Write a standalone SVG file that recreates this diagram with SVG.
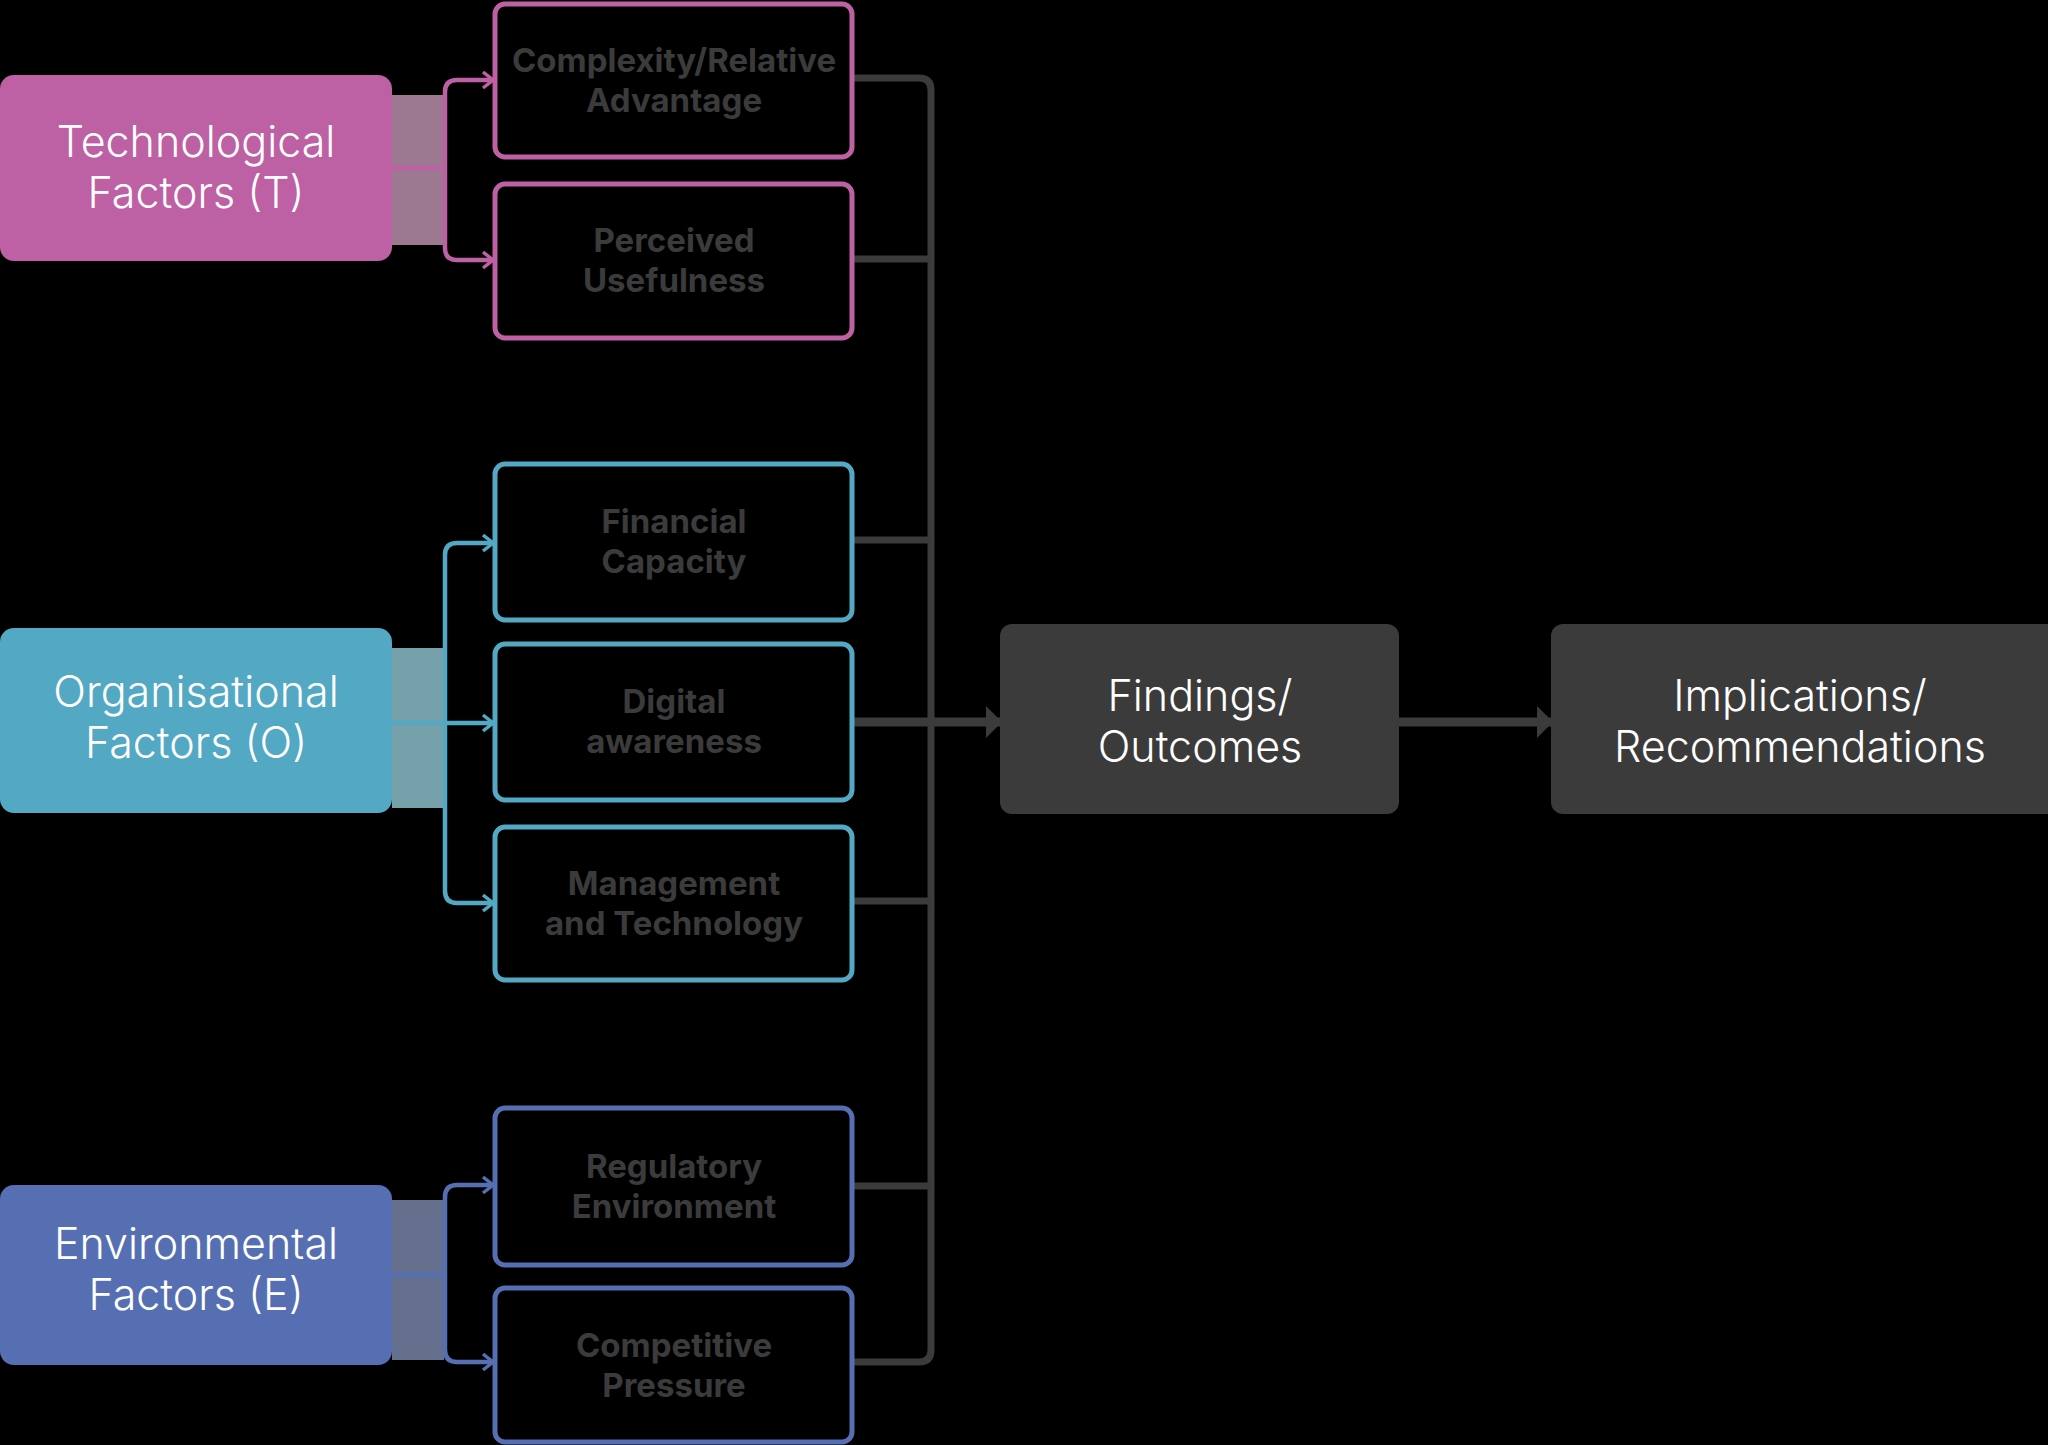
<svg xmlns="http://www.w3.org/2000/svg" width="2048" height="1445" viewBox="0 0 2048 1445">
<defs>
<style>
.lbl{font-family:Inter,"Liberation Sans",sans-serif;font-weight:300;font-size:43px;fill:#ffffff;text-anchor:middle}
.mid{font-family:Inter,"Liberation Sans",sans-serif;font-weight:700;font-size:33px;fill:#3b3b3c;text-anchor:middle}
.box{fill:none;stroke-width:5}
.pk{stroke:#be60a4}
.tl{stroke:#53a8c3}
.bl{stroke:#566fb3}
.cn{fill:none;stroke-width:4.5;stroke-linejoin:round}
.dk{fill:none;stroke:#3b3b3c;stroke-width:7;stroke-linejoin:round}
.dkm{fill:none;stroke:#3b3b3c;stroke-width:9}
</style>
<marker id="chvP" viewBox="0 0 14 20" refX="12" refY="10" markerWidth="14" markerHeight="20" markerUnits="userSpaceOnUse" orient="auto"><path d="M2,2 L12,10 L2,18" fill="none" stroke="#be60a4" stroke-width="3.5"/></marker>
<marker id="chvT" viewBox="0 0 14 20" refX="12" refY="10" markerWidth="14" markerHeight="20" markerUnits="userSpaceOnUse" orient="auto"><path d="M2,2 L12,10 L2,18" fill="none" stroke="#53a8c3" stroke-width="3.5"/></marker>
<marker id="chvB" viewBox="0 0 14 20" refX="12" refY="10" markerWidth="14" markerHeight="20" markerUnits="userSpaceOnUse" orient="auto"><path d="M2,2 L12,10 L2,18" fill="none" stroke="#566fb3" stroke-width="3.5"/></marker>
<marker id="arD" viewBox="0 0 16 32" refX="14" refY="16" markerWidth="16" markerHeight="32" markerUnits="userSpaceOnUse" orient="auto"><path d="M0,0 L16,16 L0,32 Z" fill="#3b3b3c"/></marker>
</defs>
<rect x="0" y="0" width="2048" height="1445" fill="#000000"/>

<g id="connectors">
  <rect x="392" y="95" width="52" height="150" fill="#9d7891"/>
  <rect x="392" y="648" width="52" height="160" fill="#76a0aa"/>
  <rect x="392" y="1200" width="52" height="160" fill="#656f8e"/>
  <path class="cn pk" d="M392,168 H445"/>
  <path class="cn pk" d="M445,168 V92 Q445,80 457,80 H493" marker-end="url(#chvP)"/>
  <path class="cn pk" d="M445,168 V248 Q445,260 457,260 H493" marker-end="url(#chvP)"/>
  <path class="cn tl" d="M392,723 H493" marker-end="url(#chvT)"/>
  <path class="cn tl" d="M445,723 V555 Q445,543 457,543 H493" marker-end="url(#chvT)"/>
  <path class="cn tl" d="M445,723 V891 Q445,903 457,903 H493" marker-end="url(#chvT)"/>
  <path class="cn bl" d="M392,1275 H445"/>
  <path class="cn bl" d="M445,1275 V1197 Q445,1185 457,1185 H493" marker-end="url(#chvB)"/>
  <path class="cn bl" d="M445,1275 V1350 Q445,1362 457,1362 H493" marker-end="url(#chvB)"/>
  <path class="dk" d="M854,78 H919 Q931,78 931,90 V1350 Q931,1362 919,1362 H854"/>
  <path class="dk" d="M854,259 H931"/>
  <path class="dk" d="M854,540 H931"/>
  <path class="dk" d="M854,901 H931"/>
  <path class="dk" d="M854,1186 H931"/>
  <path class="dkm" d="M854,722 H1000" marker-end="url(#arD)"/>
  <path class="dkm" d="M1399,722 H1551" marker-end="url(#arD)"/>
</g>

<g id="tech">
  <rect x="0" y="75" width="392" height="186" rx="14" fill="#be60a4"/>
  <text class="lbl" x="196" y="157">Technological</text>
  <text class="lbl" x="196" y="208">Factors (T)</text>
</g>
<g id="org">
  <rect x="0" y="628" width="392" height="185" rx="14" fill="#53a8c3"/>
  <text class="lbl" x="196" y="707">Organisational</text>
  <text class="lbl" x="196" y="758">Factors (O)</text>
</g>
<g id="env">
  <rect x="0" y="1185" width="392" height="180" rx="14" fill="#566fb3"/>
  <text class="lbl" x="196" y="1259">Environmental</text>
  <text class="lbl" x="196" y="1310">Factors (E)</text>
</g>

<g id="t1">
  <rect class="box pk" x="495" y="4" width="357" height="153" rx="10"/>
  <text class="mid" x="674" y="72">Complexity/Relative</text>
  <text class="mid" x="674" y="112">Advantage</text>
</g>
<g id="t2">
  <rect class="box pk" x="495" y="184" width="357" height="154" rx="10"/>
  <text class="mid" x="674" y="252">Perceived</text>
  <text class="mid" x="674" y="292">Usefulness</text>
</g>
<g id="o1">
  <rect class="box tl" x="495" y="464" width="357" height="156" rx="10"/>
  <text class="mid" x="674" y="533">Financial</text>
  <text class="mid" x="674" y="573">Capacity</text>
</g>
<g id="o2">
  <rect class="box tl" x="495" y="644" width="357" height="156" rx="10"/>
  <text class="mid" x="674" y="713">Digital</text>
  <text class="mid" x="674" y="753">awareness</text>
</g>
<g id="o3">
  <rect class="box tl" x="495" y="827" width="357" height="153" rx="10"/>
  <text class="mid" x="674" y="895">Management</text>
  <text class="mid" x="674" y="935">and Technology</text>
</g>
<g id="e1">
  <rect class="box bl" x="495" y="1108" width="357" height="157" rx="10"/>
  <text class="mid" x="674" y="1178">Regulatory</text>
  <text class="mid" x="674" y="1218">Environment</text>
</g>
<g id="e2">
  <rect class="box bl" x="495" y="1288" width="357" height="154" rx="10"/>
  <text class="mid" x="674" y="1357">Competitive</text>
  <text class="mid" x="674" y="1397">Pressure</text>
</g>

<g id="findings">
  <rect x="1000" y="624" width="399" height="190" rx="12" fill="#3b3b3c"/>
  <text class="lbl" x="1200" y="711">Findings/</text>
  <text class="lbl" x="1200" y="762">Outcomes</text>
</g>
<g id="implications">
  <rect x="1551" y="624" width="520" height="190" rx="12" fill="#3b3b3c"/>
  <text class="lbl" x="1800" y="711">Implications/</text>
  <text class="lbl" x="1800" y="762">Recommendations</text>
</g>
</svg>
